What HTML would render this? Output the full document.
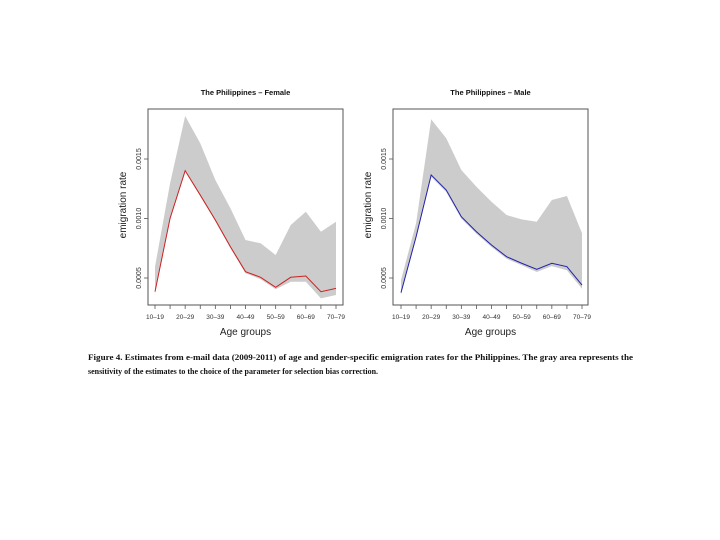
<!DOCTYPE html>
<html><head><meta charset="utf-8"><style>
html,body{margin:0;padding:0;background:#fff;}
svg{display:block;font-family:"Liberation Sans",sans-serif;}
</style></head><body>
<svg id="fig" width="720" height="540" viewBox="0 0 720 540">
<g id="female"></g>
<g id="male"></g>
<text x="88" y="360" font-family="Liberation Serif,serif" font-weight="bold" font-size="8.5" textLength="545" lengthAdjust="spacingAndGlyphs" fill="#111">Figure 4.  Estimates from e-mail data (2009-2011) of age and gender-specific emigration rates for the Philippines.  The gray area represents the</text>
<text x="88" y="374" font-family="Liberation Serif,serif" font-weight="bold" font-size="8.5" textLength="290" lengthAdjust="spacingAndGlyphs" fill="#111">sensitivity of the estimates to the choice of the parameter for selection bias correction.</text>
</svg>
<script>
const categories = ["10–14","15–19","20–24","25–29","30–34","35–39","40–44","45–49","50–54","55–59","60–64","65–69","70–74"];
const tickLabels = ["10–19","20–29","30–39","40–49","50–59","60–69","70–79"];
const yTicks = [0.0005,0.0010,0.0015];
const yTickLabels = ["0.0005","0.0010","0.0015"];
const femaleRate = [0.000385,0.001002,0.001402,0.001197,0.000987,0.000763,0.000553,0.000506,0.000422,0.000506,0.000517,0.000385,0.000413];
const femaleUpper = [0.000595,0.001296,0.001861,0.001632,0.001324,0.001086,0.000819,0.000792,0.000693,0.000945,0.001057,0.000889,0.000973];
const femaleLower = [0.000371,0.000987,0.001393,0.001189,0.000976,0.000750,0.000540,0.000489,0.000405,0.000469,0.000469,0.000329,0.000357];
const maleRate = [0.000377,0.000847,0.001366,0.001239,0.001015,0.000889,0.000777,0.000679,0.000624,0.000573,0.000624,0.000595,0.000441];
const maleUpper = [0.000483,0.000960,0.001834,0.001674,0.001408,0.001267,0.001141,0.001029,0.000993,0.000973,0.001155,0.001189,0.000876];
const maleLower = [0.000360,0.000830,0.001350,0.001222,0.000998,0.000872,0.000760,0.000662,0.000607,0.000550,0.000600,0.000565,0.000410];

const NS="http://www.w3.org/2000/svg";
function mk(parent,tag,attrs){const e=document.createElementNS(NS,tag);for(const k in attrs)e.setAttribute(k,attrs[k]);parent.appendChild(e);return e;}

function panel(gid,box,title,rate,upper,lower,color){
  const g=document.getElementById(gid);
  const x=i=>box.x0+(box.x1-box.x0)*i/(categories.length-1);
  const y=v=>278-(v-0.0005)*119000;
  let d="";
  upper.forEach((v,i)=>{d+=(i?"L":"M")+x(i)+","+y(v);});
  for(let i=lower.length-1;i>=0;i--)d+="L"+x(i)+","+y(lower[i]);
  const band=mk(g,"path",{d:d+"Z",fill:"#cccccc",stroke:"none"});
  
  
  const line=mk(g,"polyline",{points:rate.map((v,i)=>x(i)+","+y(v)).join(" "),fill:"none",stroke:color,"stroke-width":"1"});
  
  
  const frame=mk(g,"rect",{x:box.bx,y:109,width:195,height:196,fill:"none",stroke:"#555","stroke-width":"1"});
  
  
  categories.forEach((c,i)=>{
    const t=mk(g,"line",{x1:x(i),x2:x(i),y1:305,y2:309,stroke:"#555","stroke-width":"0.8"});
    
    
  });
  tickLabels.forEach((l,j)=>{
    const t=mk(g,"text",{x:x(j*2),y:319,"font-size":"6.5","text-anchor":"middle",fill:"#333"});
    t.textContent=l;
    
    
  });
  yTicks.forEach((v,j)=>{
    const t=mk(g,"line",{x1:box.bx-4,x2:box.bx,y1:y(v),y2:y(v),stroke:"#555","stroke-width":"0.8"});
    
    
    const l=mk(g,"text",{x:0,y:0,"font-size":"7","text-anchor":"middle",fill:"#333",transform:`translate(${box.bx-7},${y(v)}) rotate(-90)`});
    l.textContent=yTickLabels[j];
    
    
  });
  const tt=mk(g,"text",{x:(box.bx+box.bx+195)/2,y:95,"font-size":"7.5","font-weight":"bold","text-anchor":"middle",fill:"#111"});
  tt.textContent=title;
  
  
  const xt=mk(g,"text",{x:(box.bx+box.bx+195)/2,y:335,"font-size":"10","text-anchor":"middle",fill:"#222"});
  xt.textContent="Age groups";
  
  
  const yt=mk(g,"text",{x:0,y:0,"font-size":"10","text-anchor":"middle",fill:"#222",transform:`translate(${box.bx-22},205) rotate(-90)`});
  yt.textContent="emigration rate";
  
  
}
panel("female",{bx:148,x0:155,x1:336},"The Philippines – Female",femaleRate,femaleUpper,femaleLower,"#cc2222");
panel("male",{bx:393,x0:401,x1:582},"The Philippines – Male",maleRate,maleUpper,maleLower,"#2222aa");
</script>
</body></html>
